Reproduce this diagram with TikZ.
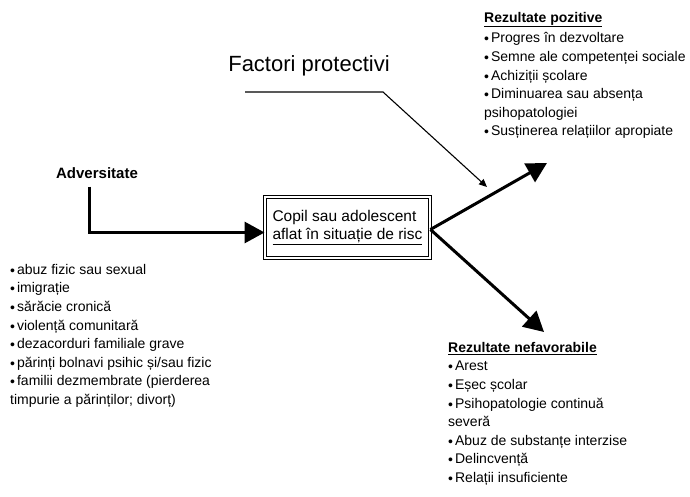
\documentclass[tikz,border=0pt]{standalone}
\usepackage{fontspec}
\setmainfont{Liberation Sans}
\usetikzlibrary{arrows.meta}
\newcommand\blt{\raisebox{-1pt}{\textbullet}\hspace{2pt}}
\tikzset{
    lst/.style={anchor=north west, align=left, inner sep=0pt,
        font=\fontsize{14}{18.6}\selectfont},
    bigarrow/.style={line width=3pt, -{Triangle[length=20pt,width=21pt]}},
    lead/.style={line width=1.1pt, -{Triangle[length=8pt,width=7pt]}}
}
\begin{document}
\begin{tikzpicture}[x=1pt,y=-1pt]
		\useasboundingbox (0,0) rectangle (690,497);
		
		% Adversity
		\node [inner sep=0pt, font=\fontsize{15}{18}\selectfont\bfseries] (adv) at (97,173) {Adversitate};
		
		% Child or adolescent at risk
		\node [draw, double, double distance=1.5pt, line width=0.9pt, align=left,
			minimum width=165pt, minimum height=61pt, font=\fontsize{15.5}{18}\selectfont]
			(child) at (347.5,227.5) {Copil sau adolescent\\\underline{aflat în situație de risc}};
		\draw [bigarrow] (adv.south) ++(-8,8) |- ([yshift=-5pt]child.west);
		
		% Risk factors
		\node [lst] (risk) at (10,264) {\blt abuz fizic sau sexual\\
			\blt imigrație\\
			\blt sărăcie cronică\\
			\blt violență comunitară\\
			\blt dezacorduri familiale grave\\
			\blt părinți bolnavi psihic și/sau fizic\\
			\blt familii dezmembrate (pierderea\\
			timpurie a părinților; divorț)};
		
		% Outcomes
		\coordinate (pos) at (547,163);
		\coordinate (neg) at (544,332);
		\draw [bigarrow] ([yshift=-2pt]child.east) -- (pos);
		\draw [bigarrow] ([yshift=-2pt]child.east) -- (neg);
		
		% Protective factors
		\node [inner sep=0pt, font=\fontsize{22}{24}\selectfont] (fp) at (309,66) {Factori protectivi};
		\coordinate (fp-a) at (245,92);
		\coordinate (fp-b) at (383,92);
		\coordinate (fp-c) at (487,187);
		\draw [lead] (fp-a) -- (fp-b) -- (fp-c);
		
		% Positive outcomes
		\node [lst] (pos-list) at (484,12) {\underline{\textbf{Rezultate pozitive}}\\[2pt]
			\blt Progres în dezvoltare\\
			\blt Semne ale competenței sociale\\
			\blt Achiziții școlare\\
			\blt Diminuarea sau absența\\
			psihopatologiei\\
			\blt Susținerea relațiilor apropiate};
		
		% Unfavourable outcomes
		\node [lst] (neg-list) at (448,342) {\underline{\textbf{Rezultate nefavorabile}}\\
			\blt Arest\\
			\blt Eșec școlar\\
			\blt Psihopatologie continuă\\
			severă\\
			\blt Abuz de substanțe interzise\\
			\blt Delincvență\\
			\blt Relații insuficiente};
		
	\end{tikzpicture}
\end{document}
